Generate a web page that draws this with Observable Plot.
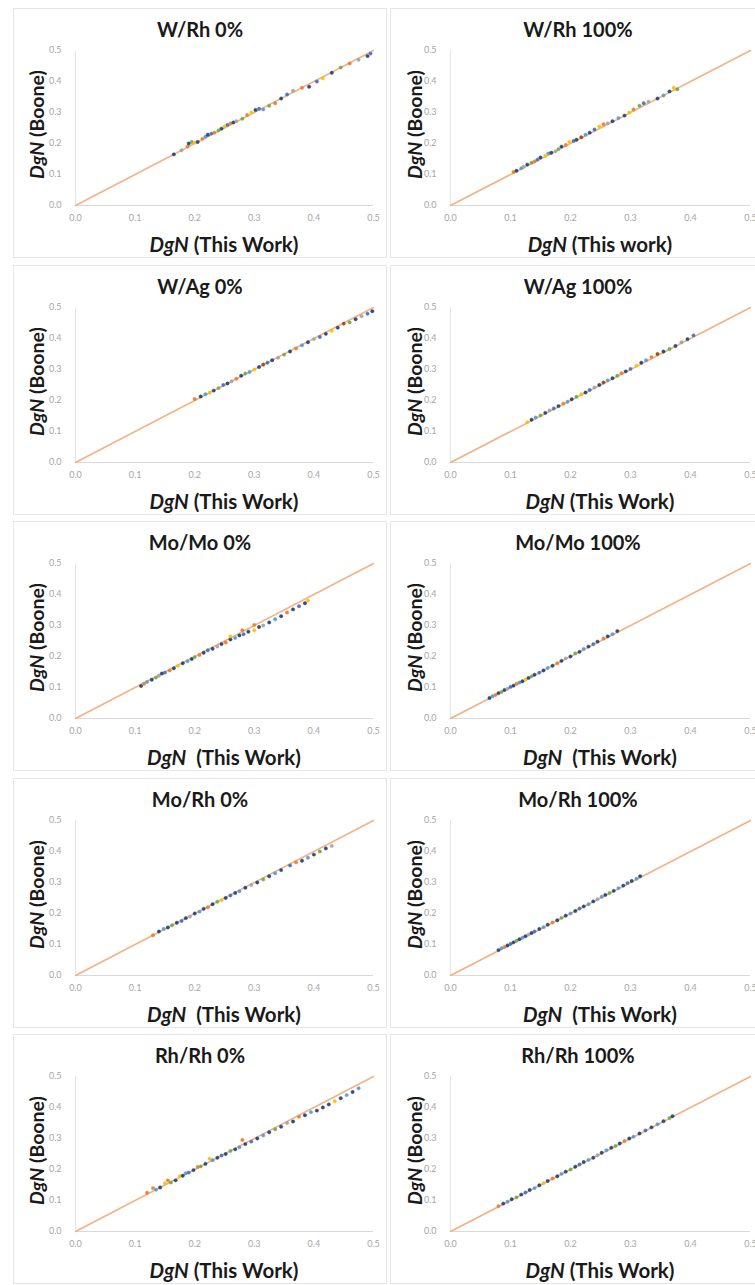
<!DOCTYPE html>
<html><head><meta charset="utf-8">
<script src="https://cdn.jsdelivr.net/npm/d3@7"></script>
<script src="https://cdn.jsdelivr.net/npm/@observablehq/plot@0.6"></script>
<style>
html,body{margin:0;padding:0;background:#fff;}
body{width:755px;height:1285px;overflow:hidden;position:relative;font-family:Lato,"Open Sans",sans-serif;}
.box{position:absolute;border:1px solid #e6e6e6;box-sizing:border-box;}
.panel{position:absolute;}
.panel svg{display:block;}
</style></head>
<body>
<div id="root"></div>
<script>
const titles = ["W/Rh 0%","W/Rh 100%","W/Ag 0%","W/Ag 100%","Mo/Mo 0%","Mo/Mo 100%","Mo/Rh 0%","Mo/Rh 100%","Rh/Rh 0%","Rh/Rh 100%"];
const xTitleRest = [" (This Work)"," (This work)"," (This Work)"," (This Work)","\u00a0 (This Work)","\u00a0 (This Work)","\u00a0 (This Work)","\u00a0 (This Work)"," (This Work)"," (This Work)"];
const yTitleRest = " (Boone)";
const axisVar = "DgN";
const tickValues = [0, 0.1, 0.2, 0.3, 0.4, 0.5];
const refLine = [0, 0.5];
const seriesIds = [0,1,2,3,4,5,6,7];
const seriesColors = ["#264478","#ED7D31","#A5A5A5","#FFC000","#5B9BD5","#70AD47","#4472C4","#9E480E"];

// [DgN This Work, DgN Boone, series]
const wrh0 = [[0.165,0.165,0],[0.178,0.178,2],[0.188,0.19,1],[0.19,0.2,0],[0.195,0.205,5],[0.2,0.203,3],[0.205,0.205,0],[0.213,0.215,1],[0.218,0.222,4],[0.222,0.228,0],[0.228,0.232,6],[0.233,0.235,1],[0.24,0.242,5],[0.245,0.248,0],[0.25,0.255,3],[0.255,0.26,6],[0.26,0.265,1],[0.265,0.268,0],[0.27,0.272,2],[0.28,0.28,5],[0.288,0.292,1],[0.295,0.3,3],[0.302,0.308,0],[0.308,0.312,6],[0.315,0.31,4],[0.325,0.322,5],[0.335,0.33,1],[0.345,0.345,0],[0.355,0.358,6],[0.365,0.37,2],[0.38,0.38,1],[0.392,0.383,0],[0.405,0.4,6],[0.415,0.41,3],[0.43,0.428,0],[0.445,0.445,5],[0.46,0.458,1],[0.475,0.47,2],[0.49,0.482,0],[0.495,0.49,6]];
const wrh100 = [[0.105,0.108,1],[0.11,0.112,0],[0.118,0.12,4],[0.122,0.125,2],[0.128,0.132,0],[0.135,0.138,5],[0.14,0.142,1],[0.145,0.148,6],[0.15,0.155,0],[0.158,0.16,3],[0.163,0.168,4],[0.168,0.17,0],[0.175,0.175,2],[0.18,0.182,5],[0.185,0.19,0],[0.192,0.195,1],[0.198,0.205,3],[0.205,0.208,6],[0.21,0.212,0],[0.218,0.22,7],[0.225,0.228,4],[0.232,0.235,0],[0.24,0.245,6],[0.248,0.255,3],[0.255,0.262,1],[0.262,0.265,2],[0.27,0.272,0],[0.28,0.282,4],[0.29,0.29,0],[0.298,0.3,3],[0.305,0.31,1],[0.315,0.322,5],[0.322,0.33,6],[0.33,0.335,2],[0.345,0.345,0],[0.355,0.355,4],[0.365,0.368,0],[0.372,0.38,3],[0.378,0.375,5]];
const wag0 = [[0.2,0.205,1],[0.21,0.213,0],[0.218,0.22,4],[0.225,0.225,3],[0.232,0.232,0],[0.24,0.24,5],[0.248,0.25,6],[0.255,0.255,0],[0.262,0.262,2],[0.27,0.27,1],[0.278,0.28,0],[0.285,0.287,5],[0.292,0.292,4],[0.3,0.3,3],[0.308,0.308,0],[0.315,0.316,7],[0.322,0.322,6],[0.33,0.33,0],[0.34,0.338,2],[0.35,0.348,5],[0.36,0.358,0],[0.37,0.368,1],[0.38,0.378,4],[0.39,0.388,0],[0.4,0.398,2],[0.41,0.405,6],[0.42,0.415,0],[0.43,0.425,3],[0.44,0.435,0],[0.45,0.448,7],[0.46,0.452,5],[0.47,0.462,0],[0.48,0.472,2],[0.49,0.48,6],[0.498,0.488,0]];
const wag100 = [[0.128,0.13,3],[0.135,0.138,0],[0.142,0.145,4],[0.15,0.152,5],[0.158,0.16,0],[0.165,0.168,2],[0.172,0.174,6],[0.18,0.182,0],[0.188,0.19,1],[0.195,0.196,4],[0.202,0.204,0],[0.21,0.212,5],[0.218,0.22,3],[0.225,0.226,0],[0.232,0.234,6],[0.24,0.242,2],[0.248,0.25,0],[0.255,0.258,7],[0.262,0.265,4],[0.27,0.272,0],[0.278,0.28,5],[0.285,0.288,1],[0.292,0.294,0],[0.3,0.302,6],[0.31,0.312,3],[0.318,0.322,0],[0.326,0.33,4],[0.335,0.34,1],[0.345,0.35,7],[0.355,0.358,0],[0.365,0.366,5],[0.375,0.376,0],[0.385,0.388,2],[0.395,0.398,0],[0.405,0.41,6]];
const momo0 = [[0.11,0.105,0],[0.115,0.112,1],[0.12,0.118,4],[0.128,0.125,0],[0.135,0.132,5],[0.14,0.138,2],[0.145,0.145,0],[0.15,0.148,6],[0.158,0.155,1],[0.165,0.162,0],[0.172,0.17,3],[0.18,0.178,0],[0.188,0.185,4],[0.195,0.192,0],[0.2,0.198,5],[0.208,0.205,1],[0.215,0.212,0],[0.222,0.22,6],[0.23,0.225,0],[0.238,0.232,2],[0.245,0.24,0],[0.252,0.245,1],[0.26,0.255,0],[0.268,0.26,4],[0.275,0.268,0],[0.282,0.272,6],[0.29,0.28,0],[0.3,0.285,3],[0.308,0.295,0],[0.315,0.3,2],[0.325,0.31,0],[0.335,0.32,4],[0.345,0.33,0],[0.355,0.342,1],[0.365,0.352,0],[0.375,0.362,6],[0.385,0.372,0],[0.39,0.38,3],[0.28,0.285,1],[0.3,0.302,1],[0.26,0.265,3]];
const momo100 = [[0.065,0.066,0],[0.07,0.072,4],[0.075,0.076,1],[0.08,0.082,0],[0.085,0.086,5],[0.09,0.092,0],[0.095,0.096,2],[0.1,0.102,6],[0.105,0.106,0],[0.11,0.112,1],[0.115,0.116,4],[0.12,0.12,0],[0.125,0.126,3],[0.13,0.131,0],[0.135,0.136,5],[0.14,0.141,0],[0.148,0.148,6],[0.155,0.155,0],[0.162,0.163,4],[0.17,0.17,0],[0.178,0.178,1],[0.185,0.186,0],[0.192,0.194,2],[0.2,0.2,0],[0.208,0.21,5],[0.215,0.215,0],[0.222,0.224,4],[0.23,0.232,0],[0.238,0.24,6],[0.245,0.248,0],[0.255,0.258,1],[0.262,0.265,0],[0.27,0.272,4],[0.278,0.282,0]];
const morh0 = [[0.13,0.13,1],[0.14,0.142,0],[0.148,0.15,4],[0.155,0.155,0],[0.162,0.162,5],[0.17,0.17,0],[0.178,0.176,6],[0.185,0.185,0],[0.192,0.19,2],[0.2,0.2,0],[0.208,0.206,4],[0.215,0.215,0],[0.222,0.22,1],[0.23,0.23,0],[0.238,0.238,5],[0.245,0.243,3],[0.252,0.25,0],[0.26,0.258,6],[0.268,0.266,0],[0.275,0.272,4],[0.285,0.283,0],[0.295,0.292,2],[0.305,0.3,0],[0.315,0.31,5],[0.325,0.32,0],[0.335,0.33,4],[0.345,0.34,0],[0.36,0.355,6],[0.37,0.365,1],[0.38,0.37,0],[0.39,0.38,4],[0.4,0.39,0],[0.41,0.4,5],[0.42,0.41,0],[0.43,0.418,2]];
const morh100 = [[0.08,0.082,0],[0.085,0.088,4],[0.09,0.092,1],[0.095,0.097,0],[0.1,0.102,6],[0.105,0.107,0],[0.11,0.112,5],[0.115,0.117,0],[0.12,0.122,4],[0.125,0.127,0],[0.13,0.132,2],[0.135,0.137,0],[0.14,0.142,6],[0.148,0.15,0],[0.155,0.156,4],[0.162,0.164,0],[0.17,0.171,1],[0.178,0.178,0],[0.185,0.186,5],[0.192,0.193,0],[0.2,0.2,4],[0.208,0.208,0],[0.215,0.216,6],[0.222,0.223,0],[0.23,0.23,4],[0.238,0.239,0],[0.245,0.246,2],[0.252,0.254,4],[0.258,0.26,0],[0.265,0.266,5],[0.272,0.273,0],[0.28,0.282,4],[0.288,0.29,0],[0.295,0.298,6],[0.302,0.305,0],[0.31,0.312,4],[0.316,0.32,0]];
const rhrh0 = [[0.12,0.125,1],[0.13,0.14,1],[0.135,0.135,4],[0.142,0.142,0],[0.15,0.155,3],[0.155,0.165,1],[0.16,0.158,5],[0.168,0.165,0],[0.175,0.178,3],[0.18,0.18,0],[0.185,0.188,4],[0.19,0.19,6],[0.198,0.198,0],[0.205,0.208,1],[0.21,0.21,5],[0.218,0.218,0],[0.225,0.235,3],[0.23,0.23,4],[0.238,0.238,0],[0.245,0.245,6],[0.252,0.25,0],[0.26,0.26,5],[0.268,0.265,0],[0.275,0.272,4],[0.28,0.295,1],[0.285,0.282,0],[0.295,0.29,6],[0.305,0.3,0],[0.315,0.31,4],[0.325,0.32,0],[0.335,0.33,5],[0.345,0.338,0],[0.355,0.35,2],[0.365,0.355,0],[0.375,0.37,1],[0.385,0.375,0],[0.395,0.385,4],[0.405,0.39,0],[0.415,0.4,0],[0.425,0.41,0],[0.435,0.42,3],[0.445,0.43,0],[0.455,0.44,4],[0.465,0.45,0],[0.475,0.462,4]];
const rhrh100 = [[0.08,0.082,1],[0.088,0.09,0],[0.095,0.096,4],[0.102,0.104,0],[0.11,0.11,5],[0.118,0.119,0],[0.125,0.126,6],[0.132,0.134,0],[0.14,0.14,4],[0.148,0.149,0],[0.155,0.156,3],[0.162,0.163,0],[0.17,0.171,1],[0.178,0.178,0],[0.185,0.186,4],[0.192,0.193,0],[0.2,0.2,5],[0.208,0.209,0],[0.215,0.216,6],[0.222,0.224,0],[0.23,0.231,4],[0.238,0.238,0],[0.245,0.246,2],[0.252,0.254,0],[0.26,0.262,4],[0.268,0.27,0],[0.275,0.276,5],[0.282,0.284,0],[0.29,0.292,1],[0.298,0.3,0],[0.305,0.306,4],[0.315,0.316,0],[0.325,0.326,6],[0.335,0.336,0],[0.345,0.346,4],[0.355,0.356,0],[0.365,0.366,5],[0.37,0.372,0]];

const panels = [wrh0, wrh100, wag0, wag100, momo0, momo100, morh0, morh100, rhrh0, rhrh100];

const root = document.getElementById("root");
const fmt = d3.format(".1f");
const W = 377, H = 257, rowPitch = 256.5;

panels.forEach((data, i) => {
  const col = i % 2, row = Math.floor(i / 2);
  const left = col ? 378 : 0;
  const top = Math.round(row * rowPitch);

  const box = document.createElement("div");
  box.className = "box";
  box.style.left = (col ? 390 : 13) + "px";
  box.style.top = (top + 8) + "px";
  box.style.width = (col ? 375 : 374) + "px";
  box.style.height = "250px";
  root.appendChild(box);

  const mL = col ? 72 : 75, mR = col ? 5 : 4, mT = 50, mB = 52;
  const chart = Plot.plot({
    width: W, height: H,
    marginLeft: mL, marginRight: mR, marginTop: mT, marginBottom: mB,
    style: {fontFamily: "Lato, 'Open Sans', sans-serif", fontSize: "9px", color: "#a6a6a6", background: "transparent", overflow: "visible"},
    x: {domain: [0, 0.5], ticks: tickValues, tickFormat: fmt, tickSize: 0, tickPadding: 9, label: null},
    y: {domain: [0, 0.5], ticks: tickValues, tickFormat: fmt, tickSize: 0, tickPadding: 14, label: null},
    color: {domain: seriesIds, range: seriesColors},
    marks: [
      Plot.ruleY([0], {stroke: "#d9d9d9", strokeWidth: 1}),
      Plot.ruleX([0], {stroke: "#e6e6e6", strokeWidth: 1}),
      Plot.line(refLine, {x: d => d, y: d => d, stroke: "#F4B183", strokeWidth: 1.6}),
      Plot.dot(data, {x: d => d[0], y: d => d[1], fill: d => d[2], r: 1.7, stroke: d => d[2], strokeWidth: 0.4, fillOpacity: 0.95})
    ]
  });

  const svg = d3.select(chart);
  const plotCx = mL + (W - mL - mR) / 2;
  const textFont = "Lato, 'Open Sans', sans-serif";
  // title
  svg.append("text")
    .attr("x", 200).attr("y", 37)
    .attr("text-anchor", "middle")
    .attr("font-family", textFont).attr("font-weight", 700).attr("font-size", 20)
    .attr("fill", "#1a1a1a")
    .text(titles[i]);
  // x label
  const xl = svg.append("text")
    .attr("x", plotCx).attr("y", 252)
    .attr("text-anchor", "middle")
    .attr("font-family", textFont).attr("font-weight", 700).attr("font-size", 20.5)
    .attr("fill", "#1a1a1a");
  xl.append("tspan").attr("font-style", "italic").text(axisVar);
  xl.append("tspan").text(xTitleRest[i]);
  // y label
  const yl = svg.append("text")
    .attr("transform", `translate(44,${mT + (H - mT - mB) / 2 - 3}) rotate(-90)`)
    .attr("text-anchor", "middle")
    .attr("font-family", textFont).attr("font-weight", 700).attr("font-size", 19.5)
    .attr("fill", "#1a1a1a");
  yl.append("tspan").attr("font-style", "italic").text(axisVar);
  yl.append("tspan").text(yTitleRest);

  const wrap = document.createElement("div");
  wrap.className = "panel";
  wrap.style.left = left + "px";
  wrap.style.top = top + "px";
  wrap.appendChild(chart);
  root.appendChild(wrap);
});
</script>
</body></html>
